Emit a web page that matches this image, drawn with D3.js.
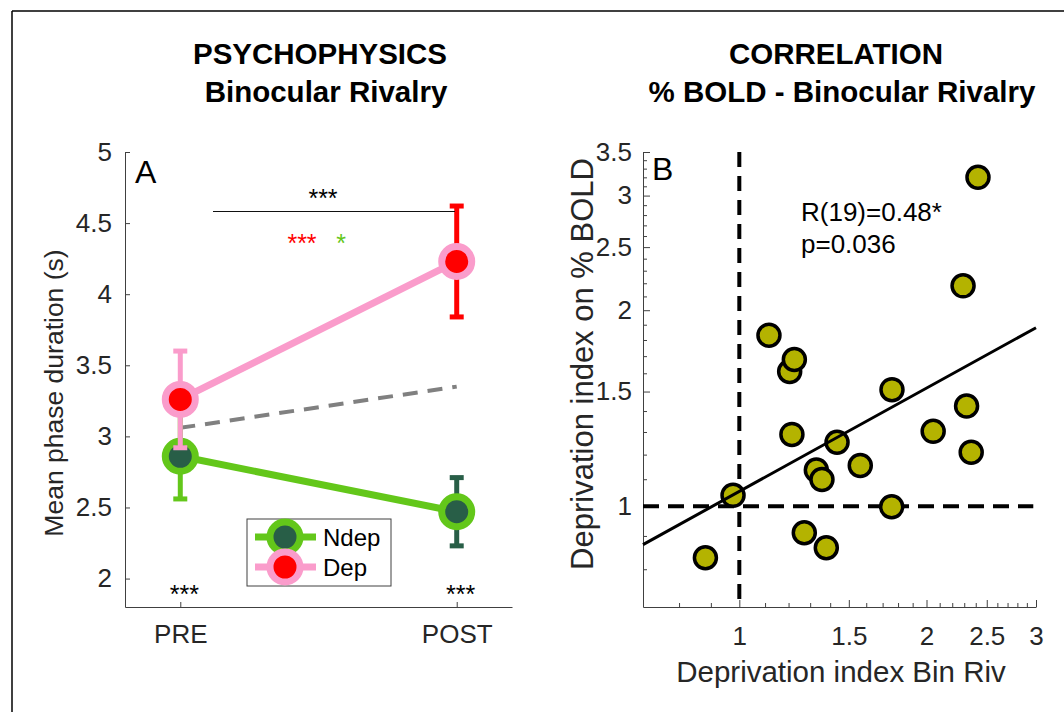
<!doctype html>
<html>
<head>
<meta charset="utf-8">
<script src="https://cdnjs.cloudflare.com/ajax/libs/d3/7.8.5/d3.min.js"></script>
<style>
	body { margin: 0; background: #fff; }
	svg text { font-family: "Liberation Sans", Helvetica, Arial, sans-serif; fill: #262626; }
	.axis path, .axis line { stroke: #404040; stroke-width: 1; }
</style>
</head>
<body>
<svg id="fig" width="1064" height="712"></svg>
<script>
// ---- panel A : psychophysics ----
var sessions = ["PRE", "POST"];
var sessionPos = [1, 2];
var ndepMean = [2.86, 2.47];
var ndepErr = [0.30, 0.24];
var depMean = [3.26, 4.23];
var depErr = [0.34, 0.39];
var expectedDep = [3.06, 3.35];
var yTicksA = [2, 2.5, 3, 3.5, 4, 4.5, 5];

// ---- panel B : correlation ----
var binRiv =  [2.42, 2.29, 1.116, 1.205, 1.226, 1.76, 2.32, 1.215, 2.05, 1.436, 2.36, 1.565, 1.33, 1.358, 0.977, 1.758, 1.272, 1.38, 0.882];
var boldIdx = [3.20, 2.18, 1.83, 1.61, 1.68, 1.51, 1.425, 1.289, 1.303, 1.254, 1.21, 1.155, 1.136, 1.099, 1.039, 0.998, 0.91, 0.863, 0.833];
var fitX = [0.7, 3];
var fitY = [0.873, 1.88];
var xTicksB = [1, 1.5, 2, 2.5, 3];
var yTicksB = [1, 1.5, 2, 2.5, 3, 3.5];
var minorX = [0.8, 0.9, 1.1, 1.2, 1.3, 1.4, 1.6, 1.7, 1.8, 1.9, 2.1, 2.2, 2.3, 2.4, 2.6, 2.7, 2.8, 2.9];
var minorY = [0.8, 0.9, 1.1, 1.2, 1.3, 1.4, 1.6, 1.7, 1.8, 1.9, 2.1, 2.2, 2.3, 2.4, 2.6, 2.7, 2.8, 2.9, 3.1, 3.2, 3.3, 3.4];

var pink = "#fa9ccb", red = "#ff0000", green = "#63c71a", dkgreen = "#285e47", olive = "#b4b300";

var svg = d3.select("#fig");

// frame
svg.append("line").attr("x1", 12).attr("y1", 11).attr("x2", 1064).attr("y2", 11).attr("stroke", "#000").attr("stroke-width", 1.5);
svg.append("line").attr("x1", 12).attr("y1", 11).attr("x2", 12).attr("y2", 712).attr("stroke", "#000").attr("stroke-width", 1.5);

// titles
function title(x, y, s) {
	svg.append("text").attr("x", x).attr("y", y).attr("text-anchor", "middle")
		.style("font-size", "29.5px").style("font-weight", "bold").style("fill", "#000").text(s);
}
title(320, 64, "PSYCHOPHYSICS");
title(326, 102, "Binocular Rivalry");
title(836, 64, "CORRELATION");
title(842, 102, "% BOLD - Binocular Rivalry");

// ================= panel A =================
var xA = d3.scaleLinear().domain([0.8, 2.2]).range([125, 512]);
var yA = d3.scaleLinear().domain([1.8, 5]).range([607, 152]);

svg.append("g").attr("class", "axis").attr("transform", "translate(125,0)")
	.call(d3.axisLeft(yA).tickValues(yTicksA).tickFormat(d3.format("")).tickSizeInner(-5).tickSizeOuter(0).tickPadding(13))
	.selectAll("text").style("font-size", "26px");
svg.append("g").attr("class", "axis").attr("transform", "translate(0,607)")
	.call(d3.axisBottom(xA).tickValues(sessionPos).tickFormat(function(d, i) { return sessions[i]; }).tickSizeInner(-5).tickSizeOuter(0).tickPadding(18))
	.selectAll("text").style("font-size", "26px");
svg.selectAll(".axis text").attr("fill", null);

svg.append("text").attr("transform", "translate(63,393) rotate(-90)").attr("text-anchor", "middle")
	.style("font-size", "26.5px").text("Mean phase duration (s)");
svg.append("text").attr("x", 135).attr("y", 183).style("font-size", "32px").style("fill", "#000").text("A");

// expected (dashed gray)
svg.append("path").datum(expectedDep)
	.attr("d", d3.line().x(function(d, i) { return xA(sessionPos[i]); }).y(function(d) { return yA(d); }))
	.attr("fill", "none").attr("stroke", "#808080").attr("stroke-width", 4).attr("stroke-dasharray", "15,10");

function group(means, errs, lineCol, faceCol, barCols) {
	var g = svg.append("g");
	g.append("path").datum(means)
		.attr("d", d3.line().x(function(d, i) { return xA(sessionPos[i]); }).y(function(d) { return yA(d); }))
		.attr("fill", "none").attr("stroke", lineCol).attr("stroke-width", 7);
	means.forEach(function(m, i) {
		var x = xA(sessionPos[i]);
		g.append("line").attr("x1", x).attr("x2", x).attr("y1", yA(m - errs[i])).attr("y2", yA(m + errs[i]))
			.attr("stroke", barCols[i]).attr("stroke-width", 5);
		[m - errs[i], m + errs[i]].forEach(function(v) {
			g.append("line").attr("x1", x - 7).attr("x2", x + 7).attr("y1", yA(v)).attr("y2", yA(v))
				.attr("stroke", barCols[i]).attr("stroke-width", 5);
		});
	});
	g.selectAll("circle").data(means).enter().append("circle")
		.attr("cx", function(d, i) { return xA(sessionPos[i]); })
		.attr("cy", function(d) { return yA(d); })
		.attr("r", 15).attr("fill", faceCol).attr("stroke", lineCol).attr("stroke-width", 7);
}
group(ndepMean, ndepErr, green, dkgreen, [green, dkgreen]);
group(depMean, depErr, pink, red, [pink, red]);

// significance marks
svg.append("line").attr("x1", 213).attr("x2", 455).attr("y1", 211.5).attr("y2", 211.5).attr("stroke", "#111").attr("stroke-width", 1.2);
function stars(x, y, s, col) {
	svg.append("text").attr("x", x).attr("y", y).attr("text-anchor", "middle")
		.style("font-size", "25px").style("fill", col).text(s);
}
stars(323, 207, "***", "#000");
stars(302, 252, "***", red);
stars(341, 252, "*", green);
stars(xA(sessionPos[0]) + 4, 603, "***", "#000");
stars(xA(sessionPos[1]) + 4, 603, "***", "#000");

// legend
var lg = svg.append("g");
lg.append("rect").attr("x", 247).attr("y", 519).attr("width", 144).attr("height", 67)
	.attr("fill", "#fff").attr("stroke", "#404040").attr("stroke-width", 1);
[["Ndep", green, dkgreen, 537], ["Dep", pink, red, 567]].forEach(function(e) {
	lg.append("line").attr("x1", 255).attr("x2", 316).attr("y1", e[3]).attr("y2", e[3]).attr("stroke", e[1]).attr("stroke-width", 7);
	lg.append("circle").attr("cx", 285).attr("cy", e[3]).attr("r", 15).attr("fill", e[2]).attr("stroke", e[1]).attr("stroke-width", 7);
	lg.append("text").attr("x", 323).attr("y", e[3] + 9).style("font-size", "24px").style("fill", "#000").text(e[0]);
});

// ================= panel B =================
var xB = d3.scaleLog().domain([0.7, 3]).range([643, 1036]);
var yB = d3.scaleLog().domain([0.7, 3.5]).range([607, 152]);

var axB = svg.append("g").attr("class", "axis");
axB.append("g").attr("transform", "translate(0,607)")
	.call(d3.axisBottom(xB).tickValues(xTicksB).tickFormat(d3.format("")).tickSizeInner(-7).tickSizeOuter(0).tickPadding(20))
	.selectAll("text").style("font-size", "26px");
axB.append("g").attr("transform", "translate(643,0)")
	.call(d3.axisLeft(yB).tickValues(yTicksB).tickFormat(d3.format("")).tickSizeInner(-7).tickSizeOuter(0).tickPadding(11))
	.selectAll("text").style("font-size", "26px");
axB.append("g").attr("transform", "translate(0,607)")
	.call(d3.axisBottom(xB).tickValues(minorX).tickFormat("").tickSizeInner(-4).tickSizeOuter(0))
	.select(".domain").remove();
axB.append("g").attr("transform", "translate(643,0)")
	.call(d3.axisLeft(yB).tickValues(minorY).tickFormat("").tickSizeInner(-4).tickSizeOuter(0))
	.select(".domain").remove();
axB.selectAll("text").attr("fill", null);

svg.append("text").attr("transform", "translate(593,364) rotate(-90)").attr("text-anchor", "middle")
	.style("font-size", "31px").text("Deprivation index on % BOLD");
svg.append("text").attr("x", 841).attr("y", 682).attr("text-anchor", "middle")
	.style("font-size", "29.5px").text("Deprivation index Bin Riv");
svg.append("text").attr("x", 652).attr("y", 180).style("font-size", "32px").style("fill", "#000").text("B");

// reference lines at 1
svg.append("line").attr("x1", xB(1)).attr("x2", xB(1)).attr("y1", yB(3.5)).attr("y2", yB(0.7))
	.attr("stroke", "#000").attr("stroke-width", 4).attr("stroke-dasharray", "15,9");
svg.append("line").attr("x1", xB(0.7)).attr("x2", xB(2.97)).attr("y1", yB(1)).attr("y2", yB(1))
	.attr("stroke", "#000").attr("stroke-width", 4).attr("stroke-dasharray", "16,9");

// points
svg.append("g").selectAll("circle").data(binRiv).enter().append("circle")
	.attr("cx", function(d) { return xB(d); })
	.attr("cy", function(d, i) { return yB(boldIdx[i]); })
	.attr("r", 11).attr("fill", olive).attr("stroke", "#000").attr("stroke-width", 3.5);

// least squares line
svg.append("path").datum(fitX)
	.attr("d", d3.line().x(function(d) { return xB(d); }).y(function(d, i) { return yB(fitY[i]); }))
	.attr("stroke", "#000").attr("stroke-width", 3).attr("fill", "none");

svg.append("text").attr("x", 801).attr("y", 221).style("font-size", "26px").style("fill", "#000").text("R(19)=0.48*");
svg.append("text").attr("x", 801).attr("y", 253).style("font-size", "26px").style("fill", "#000").text("p=0.036");
</script>
</body>
</html>
